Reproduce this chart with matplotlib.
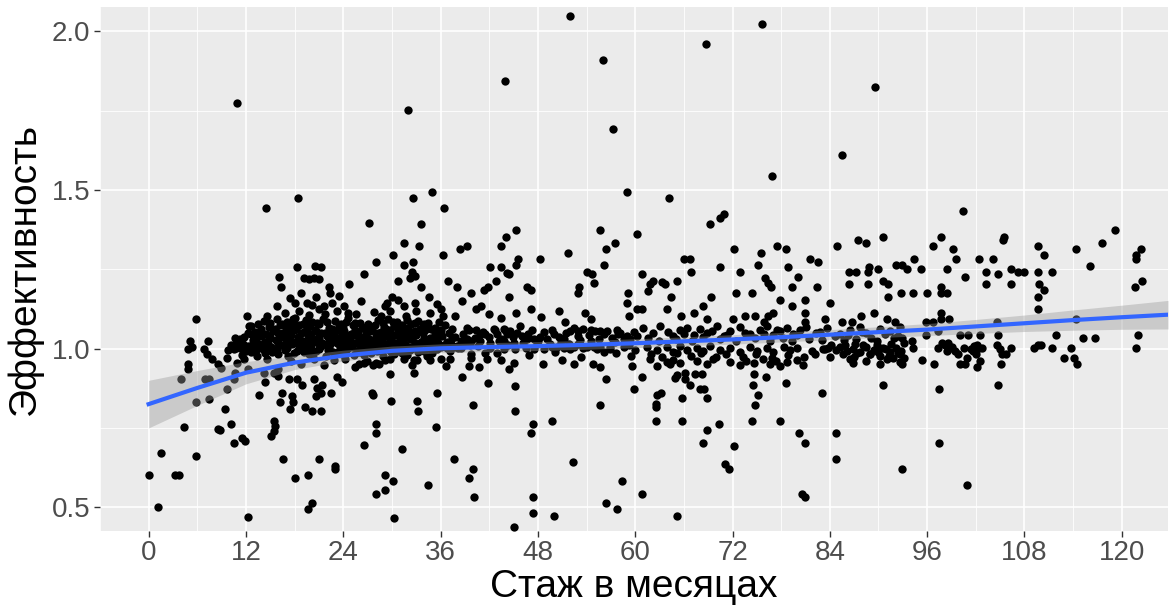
import numpy as np
import matplotlib.pyplot as plt
from matplotlib.ticker import MultipleLocator, FormatStrFormatter

# Points: (stazh in months, efficiency)
# outliers above the main band
high_pts = [
    (10.9, 1.774), (14.5, 1.443), (18.4, 1.474), (27.2, 1.395), (18.3, 1.256), (20.5, 1.260), (21.2, 1.256),
    (51.9, 2.050), (56.0, 1.910), (44.0, 1.843), (32.0, 1.753), (57.3, 1.693), (59.0, 1.494), (35.0, 1.494),
    (32.6, 1.474), (36.4, 1.443), (33.6, 1.394), (60.2, 1.362), (45.3, 1.375), (44.1, 1.353), (43.5, 1.325),
    (55.6, 1.375), (57.5, 1.334), (56.4, 1.313), (51.7, 1.302), (48.3, 1.284), (45.6, 1.284), (39.2, 1.325),
    (38.4, 1.313), (36.3, 1.294), (33.3, 1.325), (31.5, 1.334), (30.1, 1.294), (28.0, 1.274), (31.5, 1.263),
    (32.6, 1.274), (56.1, 1.263), (45.3, 1.263), (42.1, 1.256), (43.5, 1.256),
    (75.6, 2.025), (68.7, 1.962), (89.6, 1.824), (85.5, 1.612), (76.9, 1.543), (64.2, 1.474), (69.2, 1.394),
    (70.4, 1.413), (71.0, 1.425), (72.2, 1.313), (75.5, 1.302), (77.5, 1.325), (78.6, 1.313), (75.2, 1.263),
    (81.5, 1.284), (82.5, 1.274), (84.9, 1.325), (87.5, 1.344), (88.5, 1.334), (90.5, 1.353), (66.0, 1.284),
    (66.7, 1.284), (70.5, 1.256), (78.9, 1.256), (88.8, 1.256), (92.2, 1.263), (92.9, 1.263),
    (100.4, 1.435), (119.2, 1.375), (117.5, 1.334), (97.7, 1.353), (96.7, 1.325), (99.2, 1.313), (99.5, 1.284),
    (105.5, 1.353), (105.4, 1.344), (109.7, 1.325), (110.4, 1.294), (114.4, 1.313), (122.4, 1.313),
    (121.7, 1.294), (121.8, 1.284), (102.4, 1.284), (104.1, 1.284), (94.4, 1.284),
]

# points between ~1.08 and ~1.25
upper_pts = [
    (16.1, 1.225), (16.3, 1.193), (26.5, 1.234), (24.7, 1.203), (19.1, 1.224), (19.8, 1.218), (20.4, 1.224),
    (21.0, 1.218), (22.2, 1.193), (22.4, 1.176), (18.8, 1.174), (20.6, 1.162), (18.1, 1.145), (15.8, 1.134),
    (19.5, 1.145), (20.2, 1.136), (21.0, 1.124), (21.6, 1.134), (22.6, 1.145), (24.1, 1.134), (24.6, 1.113),
    (14.6, 1.103), (12.1, 1.103), (5.9, 1.092), (17.8, 1.092), (24.4, 1.084),
    (32.5, 1.242), (32.2, 1.224), (32.9, 1.229), (30.8, 1.212), (33.6, 1.193), (34.6, 1.162), (29.4, 1.145),
    (29.2, 1.134), (30.0, 1.162), (30.8, 1.153), (32.9, 1.145), (31.5, 1.134), (28.6, 1.103), (31.7, 1.103),
    (34.7, 1.113), (36.0, 1.124), (36.3, 1.103), (36.9, 1.212), (38.0, 1.193), (37.8, 1.103), (44.2, 1.239),
    (44.4, 1.234), (42.8, 1.212), (41.3, 1.184), (41.8, 1.193), (44.5, 1.162), (46.6, 1.193), (47.1, 1.184),
    (47.2, 1.124), (45.3, 1.113), (40.4, 1.124), (41.0, 1.134), (54.0, 1.242), (54.7, 1.234), (54.9, 1.208),
    (53.1, 1.193), (53.0, 1.174), (59.1, 1.174), (59.0, 1.143), (60.2, 1.124), (59.2, 1.103), (53.8, 1.113),
    (54.5, 1.092), (51.4, 1.084), (39.3, 1.066), (39.5, 1.059), (40.4, 1.059), (43.8, 1.061), (42.6, 1.061),
    (60.9, 1.234), (66.9, 1.242), (72.9, 1.242), (86.4, 1.242), (87.2, 1.242), (88.7, 1.242), (90.0, 1.252),
    (61.8, 1.203), (62.2, 1.213), (63.3, 1.210), (63.7, 1.203), (61.6, 1.182), (65.1, 1.212), (64.4, 1.162),
    (63.9, 1.124), (60.9, 1.124), (69.4, 1.162), (68.3, 1.134), (72.4, 1.174), (74.4, 1.174), (76.0, 1.224),
    (76.4, 1.208), (76.7, 1.194), (79.3, 1.193), (80.1, 1.225), (82.4, 1.193), (77.9, 1.153), (79.3, 1.134),
    (80.9, 1.153), (80.9, 1.113), (84.0, 1.144), (86.4, 1.203), (88.7, 1.203), (90.5, 1.212), (91.2, 1.203),
    (91.2, 1.162), (67.3, 1.113), (65.7, 1.103), (68.8, 1.092), (72.1, 1.092), (73.5, 1.103), (74.8, 1.103),
    (75.9, 1.084), (76.4, 1.103), (77.0, 1.113), (80.9, 1.084), (83.4, 1.092), (85.5, 1.084), (86.7, 1.084),
    (87.8, 1.103), (89.4, 1.113), (91.0, 1.092), (92.0, 1.084),
    (93.5, 1.252), (95.3, 1.252), (98.4, 1.252), (100.7, 1.225), (103.2, 1.243), (104.7, 1.234), (106.4, 1.252),
    (107.2, 1.243), (108.0, 1.243), (109.7, 1.243), (111.4, 1.243), (116.1, 1.262), (122.5, 1.212),
    (121.6, 1.193), (103.2, 1.203), (106.3, 1.203), (109.8, 1.203), (110.4, 1.184), (109.7, 1.162),
    (109.7, 1.124), (92.8, 1.174), (94.3, 1.174), (96.0, 1.174), (97.7, 1.193), (97.7, 1.174), (98.5, 1.174),
    (97.7, 1.113), (97.7, 1.092), (98.7, 1.092), (95.8, 1.084), (96.7, 1.084), (104.6, 1.084), (114.4, 1.092),
    (16.8, 1.112), (18.5, 1.120), (19.8, 1.105), (21.8, 1.110), (23.2, 1.118), (25.6, 1.108), (27.8, 1.115),
    (17.4, 1.160), (23.5, 1.165), (26.2, 1.150), (29.8, 1.118), (33.0, 1.120), (35.5, 1.140), (38.6, 1.150),
    (39.8, 1.175), (42.0, 1.110), (43.5, 1.095), (48.4, 1.100), (50.6, 1.120),
]

# the dense band around 1.0, left part (x < 40)
band_left = [
    (14.2, 1.088), (15.8, 1.094), (17.1, 1.085), (18.0, 1.097), (19.4, 1.090), (20.2, 1.083), (21.5, 1.092),
    (23.0, 1.087), (24.6, 1.095), (26.1, 1.081), (28.3, 1.089), (29.5, 1.093), (30.6, 1.084), (31.8, 1.091),
    (33.2, 1.086), (34.5, 1.080),
    (13.5, 1.079), (15.0, 1.082), (16.5, 1.078), (17.8, 1.081), (19.0, 1.077), (20.8, 1.080), (22.0, 1.083),
    (23.7, 1.078), (25.5, 1.082), (27.0, 1.077), (28.9, 1.080), (30.1, 1.083), (31.3, 1.076), (32.8, 1.081),
    (34.0, 1.079), (35.8, 1.084),
    (12.6, 1.072), (14.9, 1.068), (16.2, 1.075), (17.4, 1.066), (18.6, 1.073), (19.9, 1.070), (21.0, 1.077),
    (22.3, 1.065), (23.5, 1.071), (25.2, 1.074), (26.8, 1.067), (27.9, 1.076), (29.0, 1.069), (30.2, 1.072),
    (31.1, 1.065), (32.4, 1.078), (33.8, 1.070), (35.3, 1.066), (36.6, 1.073),
    (13.8, 1.063), (15.6, 1.060), (16.9, 1.064), (18.2, 1.061), (19.5, 1.065), (20.5, 1.059), (22.6, 1.062),
    (24.0, 1.064), (25.5, 1.060), (26.3, 1.066), (27.6, 1.061), (29.3, 1.063), (30.8, 1.059), (32.0, 1.064),
    (33.5, 1.061), (34.8, 1.063), (36.0, 1.060), (37.4, 1.062),
    (13.1, 1.052), (15.3, 1.057), (16.6, 1.050), (17.9, 1.058), (19.1, 1.053), (20.6, 1.056), (21.8, 1.049),
    (23.2, 1.059), (24.1, 1.054), (25.8, 1.051), (27.3, 1.057), (28.6, 1.053), (29.8, 1.060), (31.4, 1.050),
    (32.9, 1.055), (34.1, 1.058), (35.9, 1.052),
    (12.2, 1.048), (14.5, 1.046), (15.9, 1.049), (17.1, 1.045), (18.8, 1.048), (20.0, 1.046), (21.2, 1.050),
    (22.4, 1.044), (23.8, 1.048), (25.0, 1.047), (26.8, 1.045), (28.3, 1.049), (29.6, 1.046), (31.0, 1.048),
    (32.2, 1.045), (33.8, 1.049), (35.3, 1.046), (37.0, 1.048), (38.8, 1.045),
    (11.8, 1.038), (13.9, 1.043), (15.0, 1.036), (16.3, 1.041), (17.5, 1.044), (18.4, 1.037), (19.6, 1.042),
    (20.9, 1.035), (22.0, 1.040), (22.8, 1.045), (24.4, 1.038), (25.5, 1.043), (26.5, 1.036), (28.0, 1.041),
    (29.2, 1.039), (30.4, 1.044), (31.6, 1.037), (33.0, 1.042), (34.7, 1.035), (36.2, 1.040), (37.8, 1.038),
    (11.3, 1.031), (13.3, 1.034), (14.8, 1.030), (16.1, 1.033), (17.3, 1.031), (18.6, 1.034), (19.9, 1.030),
    (21.0, 1.033), (22.3, 1.031), (23.4, 1.035), (24.7, 1.030), (26.0, 1.033), (27.2, 1.031), (28.5, 1.034),
    (29.8, 1.030), (31.0, 1.033), (32.3, 1.031), (33.9, 1.034), (35.5, 1.030), (37.4, 1.033), (39.2, 1.031),
    (10.9, 1.022), (12.9, 1.027), (14.4, 1.020), (15.7, 1.026), (16.9, 1.029), (18.1, 1.021), (19.0, 1.025),
    (20.3, 1.028), (21.4, 1.019), (22.6, 1.024), (23.9, 1.027), (25.0, 1.021), (26.2, 1.026), (27.5, 1.023),
    (28.8, 1.028), (30.0, 1.020), (31.2, 1.025), (32.5, 1.029), (33.6, 1.022), (35.0, 1.026), (36.8, 1.021),
    (38.5, 1.024),
    (11.6, 1.016), (13.2, 1.019), (14.7, 1.015), (16.0, 1.018), (17.2, 1.016), (18.5, 1.019), (19.7, 1.015),
    (20.9, 1.018), (22.0, 1.016), (23.2, 1.019), (24.3, 1.015), (25.5, 1.018), (26.7, 1.016), (27.9, 1.019),
    (29.1, 1.015), (30.4, 1.018), (31.6, 1.016), (32.8, 1.019), (34.2, 1.015), (35.7, 1.018), (37.3, 1.016),
    (39.0, 1.018),
    (10.2, 1.012), (12.3, 1.008), (13.6, 1.014), (15.1, 1.006), (16.4, 1.011), (17.7, 1.015), (18.9, 1.007),
    (20.0, 1.013), (21.2, 1.009), (22.4, 1.016), (23.6, 1.005), (24.8, 1.010), (26.0, 1.014), (27.1, 1.007),
    (28.4, 1.012), (29.6, 1.009), (30.8, 1.015), (32.1, 1.006), (33.4, 1.011), (34.9, 1.008), (36.4, 1.013),
    (38.0, 1.007), (39.6, 1.010),
    (10.8, 1.003), (12.9, 1.001), (14.5, 1.004), (15.8, 1.000), (17.1, 1.003), (18.6, 1.001), (19.9, 1.004),
    (21.0, 1.000), (22.2, 1.003), (23.9, 1.001), (25.1, 1.004), (26.4, 1.000), (27.6, 1.003), (28.8, 1.001),
    (30.1, 1.004), (31.5, 1.000), (32.8, 1.003), (34.4, 1.001), (36.0, 1.004), (38.5, 1.001),
    (9.8, 0.996), (12.0, 0.992), (14.1, 0.998), (15.5, 0.993), (16.8, 0.997), (18.3, 0.991), (19.5, 0.999),
    (20.7, 0.994), (22.1, 0.996), (23.3, 0.990), (24.5, 0.998), (25.7, 0.993), (27.0, 0.997), (28.2, 0.992),
    (29.4, 0.999), (30.9, 0.994), (32.2, 0.996), (33.9, 0.991), (35.5, 0.998), (37.2, 0.993),
    (12.6, 0.988), (14.3, 0.986), (15.2, 0.989), (17.9, 0.985), (19.1, 0.988), (20.3, 0.986), (22.7, 0.989),
    (24.1, 0.985), (25.9, 0.988), (27.4, 0.986), (29.9, 0.989), (31.3, 0.985), (33.2, 0.988), (35.0, 0.986),
    (11.5, 0.981), (13.4, 0.977), (16.0, 0.983), (17.2, 0.978), (19.8, 0.982), (21.9, 0.976), (23.8, 0.984),
    (25.3, 0.979), (26.6, 0.981), (28.9, 0.977), (30.3, 0.983), (31.9, 0.980), (34.3, 0.978),
    (14.6, 0.966), (17.6, 0.962), (20.4, 0.968), (22.9, 0.963), (24.2, 0.967), (26.9, 0.961), (29.1, 0.965),
    (33.1, 0.964), (18.8, 0.951), (21.6, 0.947), (25.9, 0.953), (27.7, 0.949),
]

# the band, right part (x >= 40)
band_right = [
    (40.9, 1.045), (41.5, 1.045), (42.7, 1.059), (43.0, 1.045), (44.0, 1.059), (44.2, 1.045), (44.6, 1.056),
    (45.8, 1.071), (46.0, 1.040), (46.6, 1.029), (47.5, 1.029), (48.7, 1.052), (49.7, 1.059), (50.0, 1.045),
    (51.2, 1.029), (52.0, 1.056), (52.5, 1.066), (53.0, 1.056), (53.6, 1.061), (54.5, 1.059), (55.1, 1.056),
    (55.7, 1.056), (56.1, 1.045), (57.7, 1.059), (57.9, 1.045), (58.6, 1.029), (59.4, 1.029), (60.2, 1.040),
    (39.7, 1.024), (40.9, 1.024), (42.1, 1.019), (43.2, 1.024), (43.8, 1.024), (45.0, 1.019), (46.2, 1.019),
    (47.9, 1.014), (49.5, 1.014), (50.3, 1.006), (51.8, 1.014), (52.4, 1.006), (54.0, 1.006), (54.9, 1.006),
    (55.7, 1.006), (56.9, 1.006), (58.6, 1.006),
    (36.8, 1.003), (37.6, 1.006), (38.2, 1.003), (39.7, 0.982), (41.5, 0.987), (42.1, 1.003), (43.8, 0.998),
    (45.2, 0.998), (47.5, 1.000), (48.7, 0.998), (49.7, 1.006), (51.2, 1.003), (52.0, 0.998), (53.6, 1.003),
    (55.3, 0.998), (56.1, 0.989), (56.9, 0.998),
    (40.3, 1.035), (41.2, 1.052), (42.0, 1.038), (43.5, 1.030), (44.9, 1.037), (45.4, 1.050), (46.8, 1.046),
    (47.3, 1.060), (48.2, 1.038), (49.1, 1.030), (50.6, 1.036), (51.5, 1.048), (52.9, 1.040), (53.2, 1.028),
    (54.3, 1.044), (55.5, 1.030), (56.5, 1.054), (57.2, 1.035), (58.1, 1.050), (59.0, 1.040), (59.8, 1.052),
    (40.6, 1.008), (44.3, 1.010), (46.5, 1.002), (48.0, 1.024), (50.8, 1.020), (53.0, 1.015), (54.6, 1.024),
    (57.5, 1.020), (59.2, 1.012), (60.0, 0.995), (42.9, 0.985), (46.9, 0.980), (50.1, 0.988), (53.3, 0.975),
    (57.6, 0.985), (59.5, 0.978),
    (61.0, 1.065), (62.2, 1.048), (63.1, 1.071), (64.7, 1.040), (65.5, 1.058), (66.4, 1.066), (67.2, 1.044),
    (68.0, 1.062), (68.8, 1.050), (70.1, 1.070), (70.9, 1.041), (71.7, 1.057), (72.9, 1.068), (74.2, 1.046),
    (75.4, 1.060), (76.2, 1.072), (77.0, 1.043), (77.9, 1.055), (78.7, 1.066), (79.5, 1.047), (80.3, 1.059),
    (81.1, 1.069), (82.8, 1.052), (83.6, 1.064), (85.3, 1.045), (86.5, 1.058), (87.7, 1.068), (88.5, 1.049),
    (90.2, 1.061), (91.4, 1.054), (92.6, 1.067),
    (61.6, 1.035), (62.9, 1.025), (64.0, 1.052), (65.0, 1.030), (66.0, 1.045), (67.0, 1.025), (68.4, 1.038),
    (69.5, 1.055), (70.4, 1.030), (71.3, 1.042), (72.4, 1.025), (73.6, 1.050), (74.8, 1.032), (75.9, 1.045),
    (76.6, 1.025), (77.5, 1.058), (78.2, 1.035), (79.3, 1.025), (80.0, 1.042), (81.4, 1.030), (82.3, 1.048),
    (83.0, 1.028), (84.6, 1.040), (85.8, 1.028), (86.3, 1.042), (87.2, 1.030), (88.0, 1.052), (89.1, 1.035),
    (89.8, 1.025), (90.8, 1.046), (91.9, 1.032), (92.4, 1.040),
    (61.4, 1.006), (62.7, 0.995), (63.9, 1.004), (64.7, 0.990), (65.5, 1.008), (66.4, 0.997), (67.6, 1.003),
    (68.4, 0.992), (69.2, 1.007), (70.5, 0.996), (71.7, 1.002), (72.9, 0.989), (74.2, 1.005), (75.0, 0.994),
    (76.2, 1.001), (77.0, 0.988), (78.3, 1.006), (79.1, 0.995), (79.9, 1.002), (81.8, 0.991), (83.2, 0.998),
    (85.3, 1.004), (86.1, 0.993), (86.9, 1.000), (87.7, 0.990), (88.5, 1.005), (89.4, 0.996), (90.6, 1.001),
    (91.4, 0.989), (92.2, 1.003),
    (61.9, 0.982), (63.3, 0.975), (65.2, 0.985), (66.9, 0.978), (68.1, 0.985), (70.0, 0.975), (71.2, 0.983),
    (73.3, 0.975), (74.9, 0.982), (76.9, 0.972), (78.9, 0.980), (80.8, 0.975), (82.2, 0.982), (84.0, 0.975),
    (85.6, 0.983), (87.0, 0.975), (88.9, 0.982), (90.0, 0.990), (91.3, 0.978), (92.8, 0.992),
    (61.8, 0.966), (63.9, 0.958), (64.3, 0.950), (64.7, 0.963), (65.5, 0.955), (67.6, 0.961), (68.8, 0.953),
    (69.6, 0.968), (71.7, 0.957), (72.9, 0.949), (73.7, 0.962), (74.6, 0.955), (75.8, 0.967), (76.6, 0.951),
    (77.4, 0.960), (77.9, 0.945), (78.7, 0.958), (79.9, 0.964), (80.7, 0.948), (86.5, 0.966), (86.9, 0.956),
    (88.5, 0.961), (90.2, 0.952), (92.6, 0.958),
    (83.4, 0.998), (83.8, 1.003), (90.2, 0.977), (91.0, 0.966), (91.8, 0.971),
    (84.2, 1.012), (84.8, 0.995), (85.9, 1.010), (87.1, 1.015), (87.4, 0.985), (88.1, 1.012), (89.0, 0.983),
    (89.8, 1.010), (90.9, 0.998), (91.6, 1.015), (92.4, 0.985),
    (97.4, 1.055), (95.8, 1.042), (100.0, 1.042), (101.0, 1.042), (102.5, 1.042), (104.7, 1.042),
    (111.9, 1.042), (115.2, 1.033), (116.7, 1.033), (122.0, 1.042), (121.7, 1.003), (113.8, 1.003),
    (111.4, 1.003), (109.2, 1.003), (109.7, 1.010), (110.0, 1.012), (106.3, 1.003),
    (97.3, 1.003), (97.8, 1.019), (98.2, 1.010), (98.6, 1.019), (98.8, 1.003), (99.1, 1.006), (98.5, 0.993),
    (99.4, 0.993), (99.8, 0.982), (100.6, 1.003), (100.9, 0.971), (101.8, 1.008), (102.1, 1.013),
    (102.4, 1.003), (102.8, 1.003), (102.0, 0.982), (102.5, 0.961), (101.7, 0.993), (101.4, 0.998),
    (104.6, 1.010), (105.0, 0.998), (105.2, 0.984), (105.7, 0.984), (92.9, 1.035), (93.1, 1.019),
    (94.1, 1.024), (94.3, 1.003), (92.65, 0.984), (93.1, 0.971),
]

# points below the band
low_pts = [
    (5.1, 1.024), (4.9, 0.998), (5.4, 1.006), (7.3, 1.024), (4.9, 0.953), (4.8, 0.935), (4.0, 0.903),
    (7.0, 0.903), (7.4, 0.905), (5.9, 0.833), (7.4, 0.842), (9.4, 0.811), (9.7, 0.872), (6.8, 0.998),
    (7.2, 0.982), (7.8, 0.966), (8.5, 0.950), (8.9, 0.940), (9.7, 0.971), (10.6, 1.035), (10.5, 0.998),
    (10.9, 0.956), (11.3, 1.003), (12.2, 1.006), (12.4, 1.071), (12.6, 1.045), (10.7, 0.924), (11.7, 0.966),
    (12.2, 0.935), (13.6, 0.853), (14.4, 0.895), (15.4, 0.924), (15.9, 0.914), (16.4, 0.861), (16.2, 0.833),
    (17.7, 0.851), (17.8, 0.833), (17.4, 0.809), (15.4, 0.772), (15.6, 0.756), (15.4, 0.740), (15.1, 0.725),
    (17.3, 0.903), (18.3, 0.903), (18.9, 0.884), (19.3, 0.816), (20.2, 0.803), (21.2, 0.803), (20.4, 0.903),
    (20.8, 0.877), (21.2, 0.861), (21.4, 0.884), (20.6, 0.851), (22.5, 0.861), (23.2, 0.912), (23.8, 0.895),
    (25.4, 0.943), (26.5, 0.954), (10.2, 0.762), (8.8, 0.744), (8.5, 0.748), (4.4, 0.754), (10.5, 0.704),
    (11.5, 0.719), (11.9, 0.709), (1.5, 0.672), (5.9, 0.662), (16.6, 0.653), (21.0, 0.653), (23.0, 0.630),
    (23.0, 0.622), (19.6, 0.603), (18.1, 0.593), (26.5, 0.695), (0.1, 0.603), (3.2, 0.603), (3.7, 0.603),
    (1.2, 0.502), (20.2, 0.512), (19.6, 0.494), (12.2, 0.469), (10.5, 0.903), (14.2, 0.924), (15.9, 0.935),
    (15.6, 1.061), (13.8, 1.040), (12.8, 1.013), (13.4, 0.998),
    (28.0, 0.956), (28.4, 0.950), (29.8, 0.921), (32.5, 0.947), (32.7, 0.924), (27.6, 0.861), (27.7, 0.853),
    (29.9, 0.834), (33.1, 0.834), (33.2, 0.802), (35.6, 0.861), (28.0, 0.762), (28.1, 0.734), (31.3, 0.684),
    (35.4, 0.753), (36.7, 0.945), (38.6, 0.912), (40.7, 0.943), (41.9, 0.893), (40.0, 0.821), (37.7, 0.653),
    (40.0, 0.622), (39.5, 0.593), (34.5, 0.571), (29.2, 0.603), (30.1, 0.584), (28.0, 0.543), (29.2, 0.553),
    (40.1, 0.533), (30.3, 0.466), (44.5, 0.935), (45.0, 0.954), (45.2, 0.883), (45.2, 0.802), (47.4, 0.762),
    (47.1, 0.734), (49.7, 0.772), (47.4, 0.533), (47.4, 0.483), (50.0, 0.472), (45.0, 0.437), (48.6, 0.953),
    (51.0, 0.963), (52.5, 0.953), (54.8, 0.953), (55.6, 0.943), (56.4, 0.903), (55.7, 0.822), (52.3, 0.644),
    (58.4, 0.584), (56.4, 0.512), (57.8, 0.494), (59.9, 0.872), (59.6, 0.945), (43.4, 0.963), (41.7, 0.966),
    (39.5, 0.945), (39.7, 0.970), (37.2, 0.966), (36.0, 0.966), (34.7, 0.963), (32.7, 0.963), (31.5, 0.966),
    (29.8, 0.966),
    (62.7, 0.945), (60.9, 0.912), (64.9, 0.908), (65.1, 0.916), (66.2, 0.924), (66.2, 0.903), (66.7, 0.884),
    (67.4, 0.921), (68.2, 0.921), (68.0, 0.872), (68.5, 0.872), (68.8, 0.844), (65.8, 0.844), (62.7, 0.854),
    (63.2, 0.861), (62.6, 0.824), (62.6, 0.815), (62.6, 0.772), (65.8, 0.772), (68.9, 0.744), (70.3, 0.762),
    (68.4, 0.703), (72.2, 0.693), (71.1, 0.635), (71.6, 0.622), (74.5, 0.884), (75.1, 0.854), (74.8, 0.822),
    (74.4, 0.772), (74.7, 0.921), (76.1, 0.912), (77.9, 0.772), (78.6, 0.893), (80.2, 0.734), (80.9, 0.703),
    (80.6, 0.541), (80.9, 0.533), (83.0, 0.861), (84.8, 0.734), (84.8, 0.653), (90.5, 0.884), (60.9, 0.543),
    (65.1, 0.472),
    (112.9, 0.970), (114.1, 0.970), (114.5, 0.953), (105.1, 0.953), (104.7, 0.884), (97.5, 0.872),
    (97.5, 0.703), (100.9, 0.571), (92.9, 0.622), (100.7, 0.953), (100.0, 0.953), (102.2, 0.943),
    (92.9, 0.953), (96.8, 0.953), (95.4, 0.963),
]

# smoothing curve and its confidence band
smooth_x = [0, 6, 12, 18, 24, 30, 36, 42, 48, 54, 60, 66, 72, 78, 84, 90, 96, 102, 108, 114, 120, 125.7]
smooth_y = [0.825, 0.876, 0.924, 0.956, 0.978, 0.993, 1.001, 1.005, 1.008, 1.012, 1.017, 1.023, 1.029,
            1.036, 1.044, 1.052, 1.060, 1.070, 1.080, 1.090, 1.099, 1.107]
smooth_se = [0.075, 0.055, 0.035, 0.022, 0.017, 0.015, 0.014, 0.014, 0.014, 0.014, 0.014, 0.014, 0.015,
             0.015, 0.016, 0.017, 0.019, 0.022, 0.026, 0.032, 0.038, 0.045]

x_ticks = list(range(0, 121, 12))
y_ticks = [0.5, 1.0, 1.5, 2.0]

plt.rcParams['font.family'] = ['Liberation Sans', 'DejaVu Sans']

pts = np.array(high_pts + upper_pts + band_left + band_right + low_pts)
sx = np.array(smooth_x)
sy = np.array(smooth_y)
se = np.array(smooth_se)

fig = plt.figure(figsize=(11.76, 6.16), dpi=100)
ax = fig.add_axes([0.085, 0.1385, 0.9082, 0.8506])
ax.set_facecolor('#EBEBEB')

# points first, then the ribbon over them (ggplot layer order)
ax.scatter(pts[:, 0], pts[:, 1], s=36, color='black', linewidths=0, zorder=3)
ax.fill_between(sx, sy - se, sy + se, color='#999999', alpha=0.4, linewidth=0, zorder=4)
ax.plot(sx, sy, color='#3366FF', linewidth=3.0, zorder=5)

ax.set_xlim(-6.0, 125.7)
ax.set_ylim(0.426, 2.078)

ax.set_xticks(x_ticks)
ax.set_yticks(y_ticks)
ax.yaxis.set_major_formatter(FormatStrFormatter('%.1f'))
ax.xaxis.set_minor_locator(MultipleLocator(6))
ax.yaxis.set_minor_locator(MultipleLocator(0.25))

ax.grid(which='major', color='white', linewidth=1.2, zorder=0)
ax.grid(which='minor', color='white', linewidth=0.6, zorder=0)
ax.set_axisbelow(True)
for s in ax.spines.values():
    s.set_visible(False)

ax.tick_params(which='major', length=4, width=1, color='#333333', labelcolor='#4D4D4D',
               labelsize=20, pad=3)
ax.tick_params(which='minor', length=0)

ax.set_xlabel('Стаж в месяцах', fontsize=28, color='black', labelpad=2)
ax.set_ylabel('Эффективность', fontsize=28, color='black', labelpad=6)

fig.savefig('out.png', dpi=100)
